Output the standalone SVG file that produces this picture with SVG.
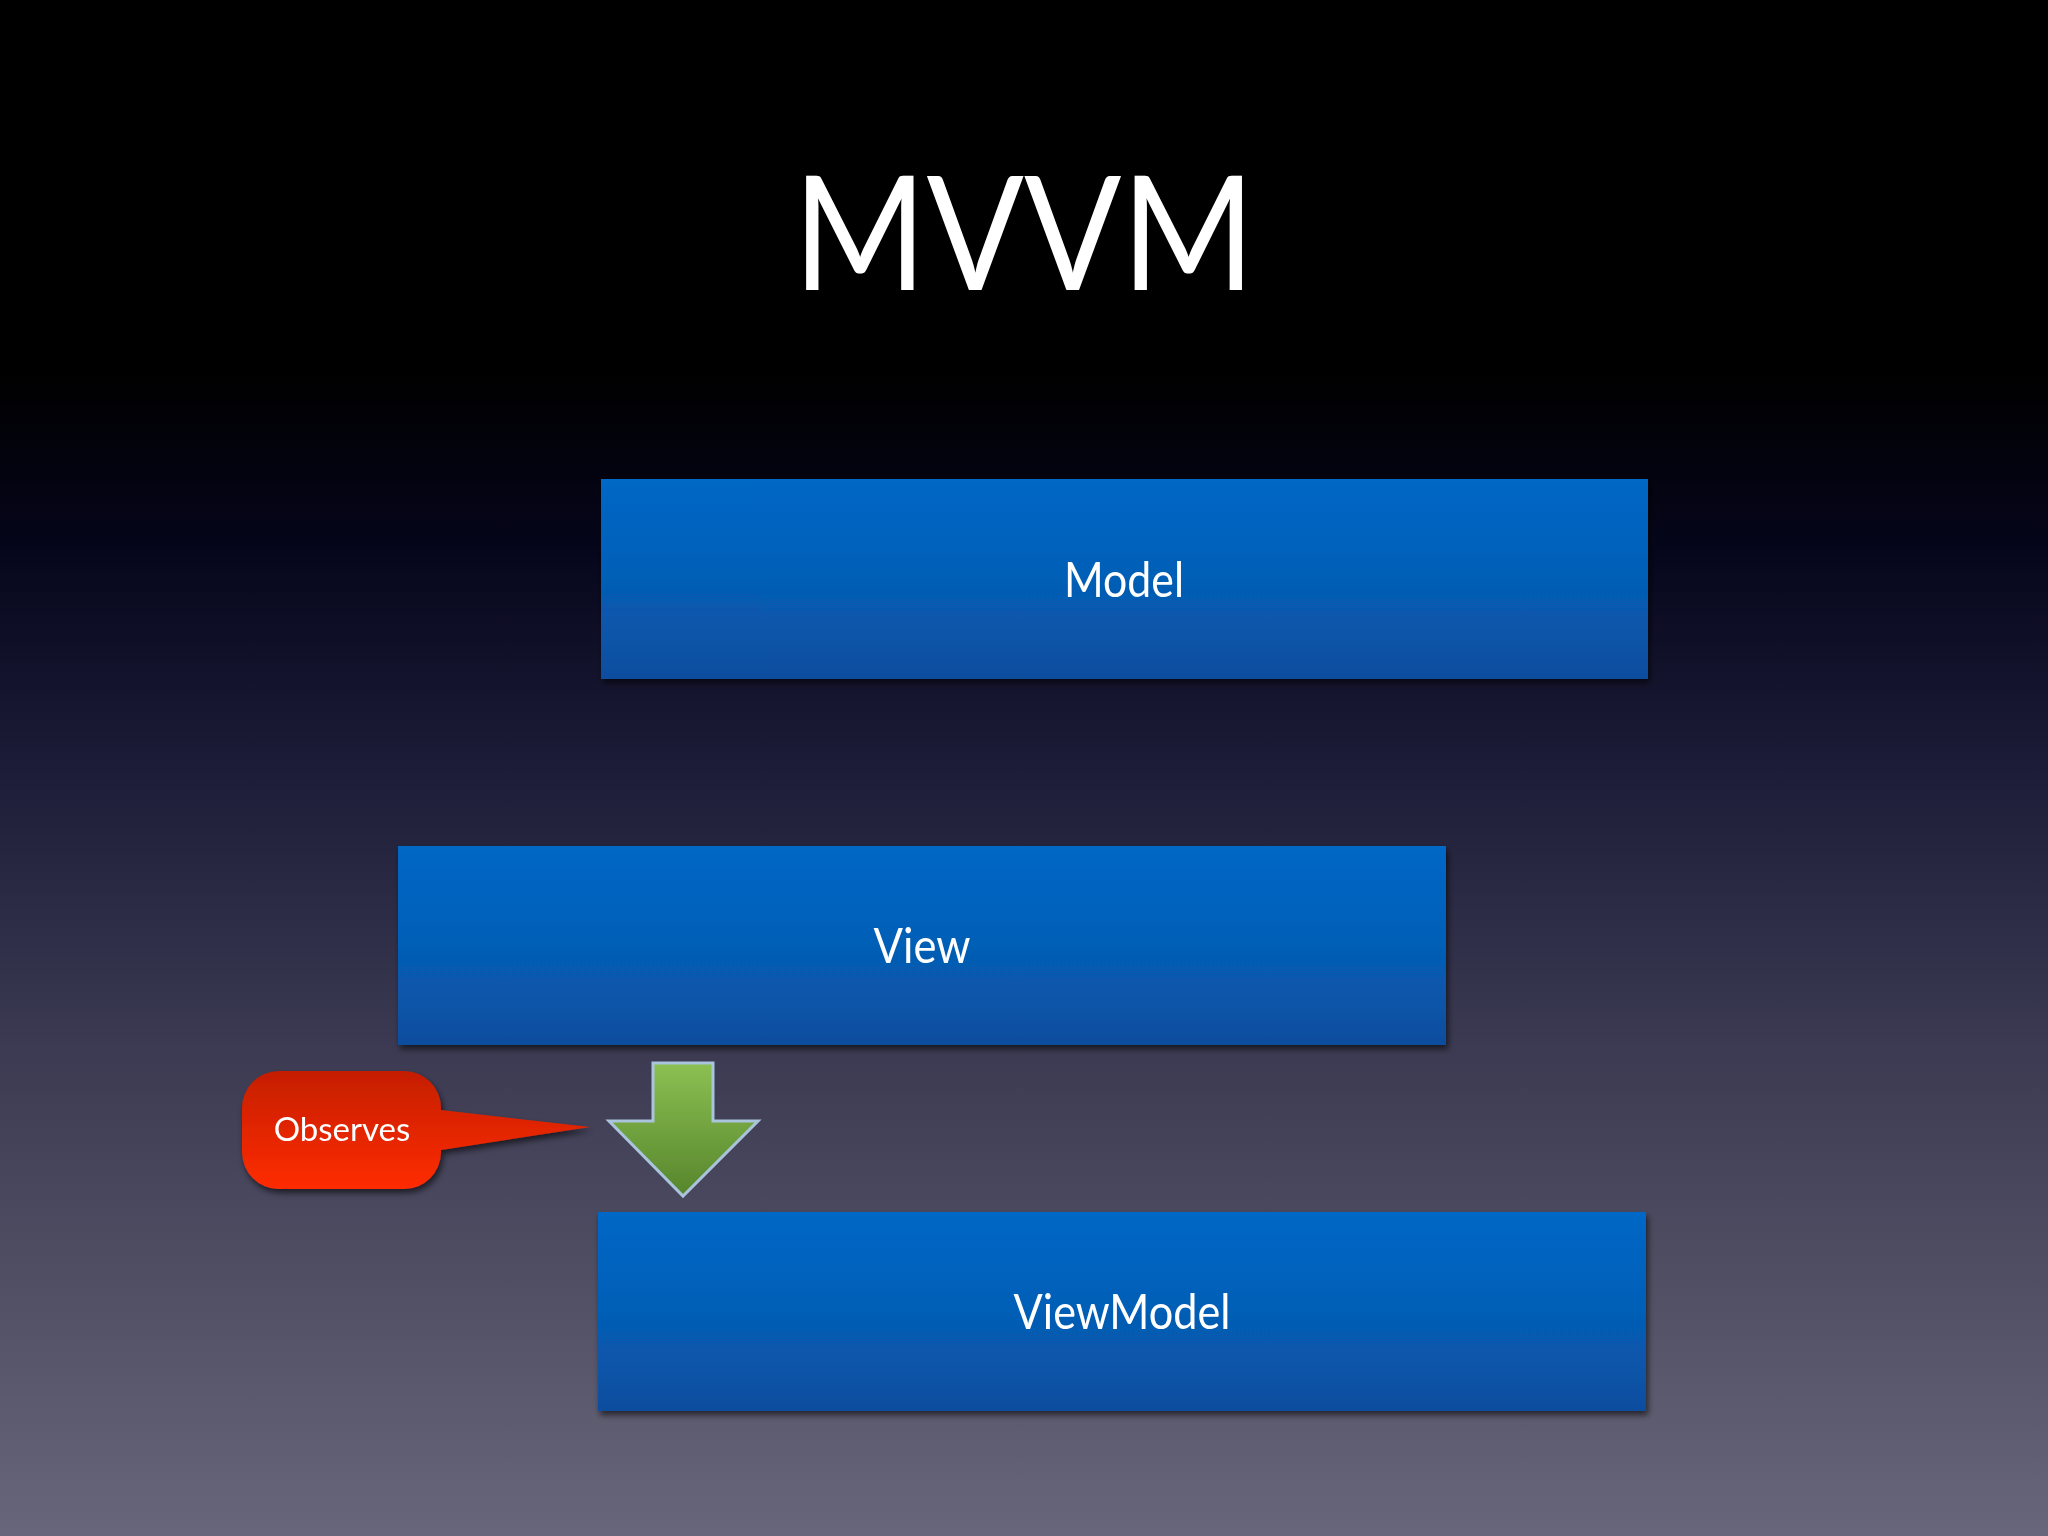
<svg xmlns="http://www.w3.org/2000/svg" width="2048" height="1536" viewBox="0 0 2048 1536">
<defs>
<linearGradient id="bg" x1="0" y1="0" x2="0" y2="1">
<stop offset="0" stop-color="#000000"/>
<stop offset="0.24" stop-color="#000000"/>
<stop offset="0.36" stop-color="#06061c"/>
<stop offset="0.5" stop-color="#1d1c38"/>
<stop offset="0.68" stop-color="#3b3a52"/>
<stop offset="0.85" stop-color="#535165"/>
<stop offset="1" stop-color="#68667a"/>
</linearGradient>
<linearGradient id="box" x1="0" y1="0" x2="0" y2="1">
<stop offset="0" stop-color="#0067c6"/>
<stop offset="0.45" stop-color="#0560b8"/>
<stop offset="1" stop-color="#0a4d9e"/>
</linearGradient>
<linearGradient id="red" x1="0" y1="0" x2="0" y2="1">
<stop offset="0" stop-color="#c41e00"/>
<stop offset="1" stop-color="#ff2c00"/>
</linearGradient>
<linearGradient id="green" x1="0" y1="0" x2="0" y2="1">
<stop offset="0" stop-color="#8cc052"/>
<stop offset="1" stop-color="#56852c"/>
</linearGradient>
<filter id="sh" x="-5%" y="-10%" width="110%" height="125%">
<feGaussianBlur in="SourceAlpha" stdDeviation="3"/>
<feOffset dx="2" dy="4" result="b"/>
<feComponentTransfer><feFuncA type="linear" slope="0.6"/></feComponentTransfer>
<feMerge><feMergeNode/><feMergeNode in="SourceGraphic"/></feMerge>
</filter>
</defs>
<style>
.lbl{font-family:"Lato","Open Sans","Liberation Sans",sans-serif;fill:#ffffff;text-anchor:middle}
.box{fill:url(#box)}
</style>
<rect x="0" y="0" width="2048" height="1536" fill="url(#bg)"/>
<text class="lbl" x="1024" y="290" font-size="160" textLength="462" lengthAdjust="spacingAndGlyphs">MVVM</text>
<g id="model" filter="url(#sh)">
<rect class="box" x="601" y="479" width="1047" height="200"/>
<text class="lbl" x="1124" y="597" font-size="48" textLength="120" lengthAdjust="spacingAndGlyphs">Model</text>
</g>
<g id="view" filter="url(#sh)">
<rect class="box" x="398" y="846" width="1048" height="199"/>
<text class="lbl" x="922" y="963" font-size="48" textLength="97" lengthAdjust="spacingAndGlyphs">View</text>
</g>
<g id="viewmodel" filter="url(#sh)">
<rect class="box" x="598" y="1212" width="1048" height="199"/>
<text class="lbl" x="1122" y="1329" font-size="48" textLength="217" lengthAdjust="spacingAndGlyphs">ViewModel</text>
</g>
<g id="connectors">
<path d="M653 1063 H713 V1121 H758 L683 1196 L609 1121 H653 Z" fill="url(#green)" stroke="#a9c4dc" stroke-width="3" stroke-linejoin="miter"/>
</g>
<g id="observes" filter="url(#sh)">
<path d="M279 1071 H404 A37 37 0 0 1 441 1108 V1110 L590 1127 L441 1150 V1152 A37 37 0 0 1 404 1189 H279 A37 37 0 0 1 242 1152 V1108 A37 37 0 0 1 279 1071 Z" fill="url(#red)"/>
<text class="lbl" x="342" y="1141" font-size="33">Observes</text>
</g>
</svg>
